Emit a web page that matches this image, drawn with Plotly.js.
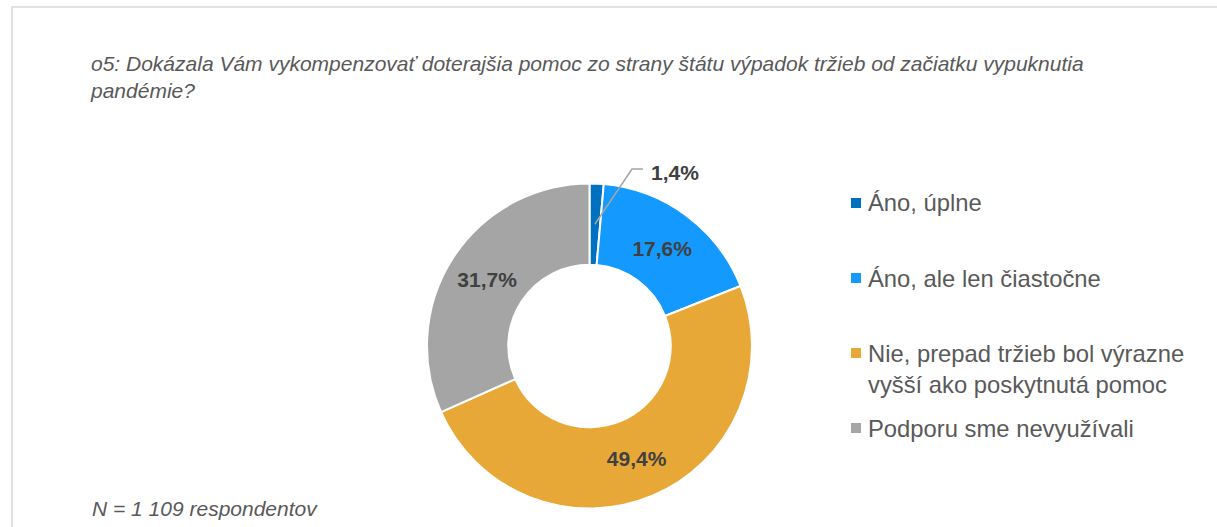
<!DOCTYPE html>
<html><head><meta charset="utf-8">
<script src="https://cdn.plot.ly/plotly-3.0.1.min.js"></script>
<style>html,body{margin:0;padding:0;background:#fff;overflow:hidden}#chart{width:1217px;height:527px}</style>
</head><body><div id="chart"></div>
<script>
// ---- data ----
const categories = ['Áno, úplne', 'Áno, ale len čiastočne', 'Nie, prepad tržieb bol výrazne vyšší ako poskytnutá pomoc', 'Podporu sme nevyužívali'];
const legendLabels = ['Áno, úplne', 'Áno, ale len čiastočne', 'Nie, prepad tržieb bol výrazne<br>vyšší ako poskytnutá pomoc', 'Podporu sme nevyužívali'];
const shares = [1.4, 17.6, 49.4, 31.7];
const colors = ['#0070C0', '#1499FF', '#E8A838', '#A5A5A5'];
const titleText = 'o5: Dokázala Vám vykompenzovať doterajšia pomoc zo strany štátu výpadok tržieb od začiatku vypuknutia<br>pandémie?';
const noteText = 'N = 1 109 respondentov';

// ---- geometry / style ----
const W = 1217, H = 527;
const FONT = 'Liberation Sans, Arial, sans-serif';
const cxPx = 589.5, cyPx = 346, rPx = 162.5, holeFrac = 0.5;
const dom = { x: [(cxPx - rPx) / W, (cxPx + rPx) / W], y: [1 - (cyPx + rPx) / H, 1 - (cyPx - rPx) / H] };
const px = x => x / W, py = y => 1 - y / H;
const fmt = v => v.toFixed(1).replace('.', ',') + '%';

const labelsText = shares.map(fmt);
const positions = shares.map((v, i) => i === 0 ? 'none' : 'inside');

const trace = {
  type: 'pie',
  labels: categories,
  values: shares,
  text: labelsText,
  textinfo: 'text',
  texttemplate: '%{text}',
  textposition: positions,
  insidetextorientation: 'horizontal',
  insidetextfont: { family: FONT, size: 21, color: '#404040', weight: 'bold' },
  marker: { colors: colors, line: { color: '#FFFFFF', width: 2 } },
  hole: holeFrac,
  sort: false,
  direction: 'clockwise',
  rotation: 0,
  domain: dom,
  hoverinfo: 'none',
  showlegend: false
};

const annotations = [];
const shapes = [];

// frame
shapes.push({ type: 'rect', xref: 'paper', yref: 'paper', x0: px(12), y0: py(H + 20), x1: px(W + 20), y1: py(7),
  line: { color: '#D9D9D9', width: 1.5 }, fillcolor: 'rgba(0,0,0,0)', layer: 'below' });

// legend (manual, Excel-like spacing)
const legTop = 203, legPitch = 75;
legendLabels.forEach((lab, i) => {
  const yc = legTop + i * legPitch;
  shapes.push({ type: 'rect', xref: 'paper', yref: 'paper', x0: px(851), x1: px(861), y0: py(yc + 5), y1: py(yc - 5),
    fillcolor: colors[i], line: { width: 0 } });
  annotations.push({ xref: 'paper', yref: 'paper', x: px(866), y: py(yc - 15.5), xanchor: 'left', yanchor: 'top',
    text: lab, showarrow: false, align: 'left', font: { family: FONT, size: 23.8, color: '#595959' } });
});

// leader line + label for smallest slice
const total = shares.reduce((a, b) => a + b, 0);
const midAng = (shares[0] / 2) / total * 2 * Math.PI;
const rMid = rPx * (1 + holeFrac) / 2;
const sx = cxPx + rMid * Math.sin(midAng), sy = cyPx - rMid * Math.cos(midAng);
const ex = 632, ey = 169, hx = 643;
shapes.push({ type: 'path', xref: 'paper', yref: 'paper',
  path: `M ${px(sx)},${py(sy)} L ${px(ex)},${py(ey)} L ${px(hx)},${py(ey)}`,
  line: { color: '#A5A5A5', width: 1.5 } });
annotations.push({ xref: 'paper', yref: 'paper', x: px(649), y: py(172), xanchor: 'left', yanchor: 'middle',
  text: '<b>' + labelsText[0] + '</b>', showarrow: false, font: { family: FONT, size: 21, color: '#404040' } });

// footnote
annotations.push({ xref: 'paper', yref: 'paper', x: px(90), y: py(508), xanchor: 'left', yanchor: 'middle',
  text: '<i>' + noteText + '</i>', showarrow: false, font: { family: FONT, size: 21, color: '#595959' } });

const layout = {
  width: W, height: H,
  margin: { l: 0, r: 0, t: 0, b: 0 },
  paper_bgcolor: '#FFFFFF', plot_bgcolor: '#FFFFFF',
  title: { text: '<i>' + titleText + '</i>', x: px(91), xref: 'paper', xanchor: 'left', y: py(71), yref: 'container', yanchor: 'top',
    font: { family: FONT, size: 21, color: '#595959' } },
  showlegend: false,
  shapes: shapes,
  annotations: annotations
};

Plotly.newPlot('chart', [trace], layout, { displayModeBar: false, staticPlot: true });
</script>
</body></html>
